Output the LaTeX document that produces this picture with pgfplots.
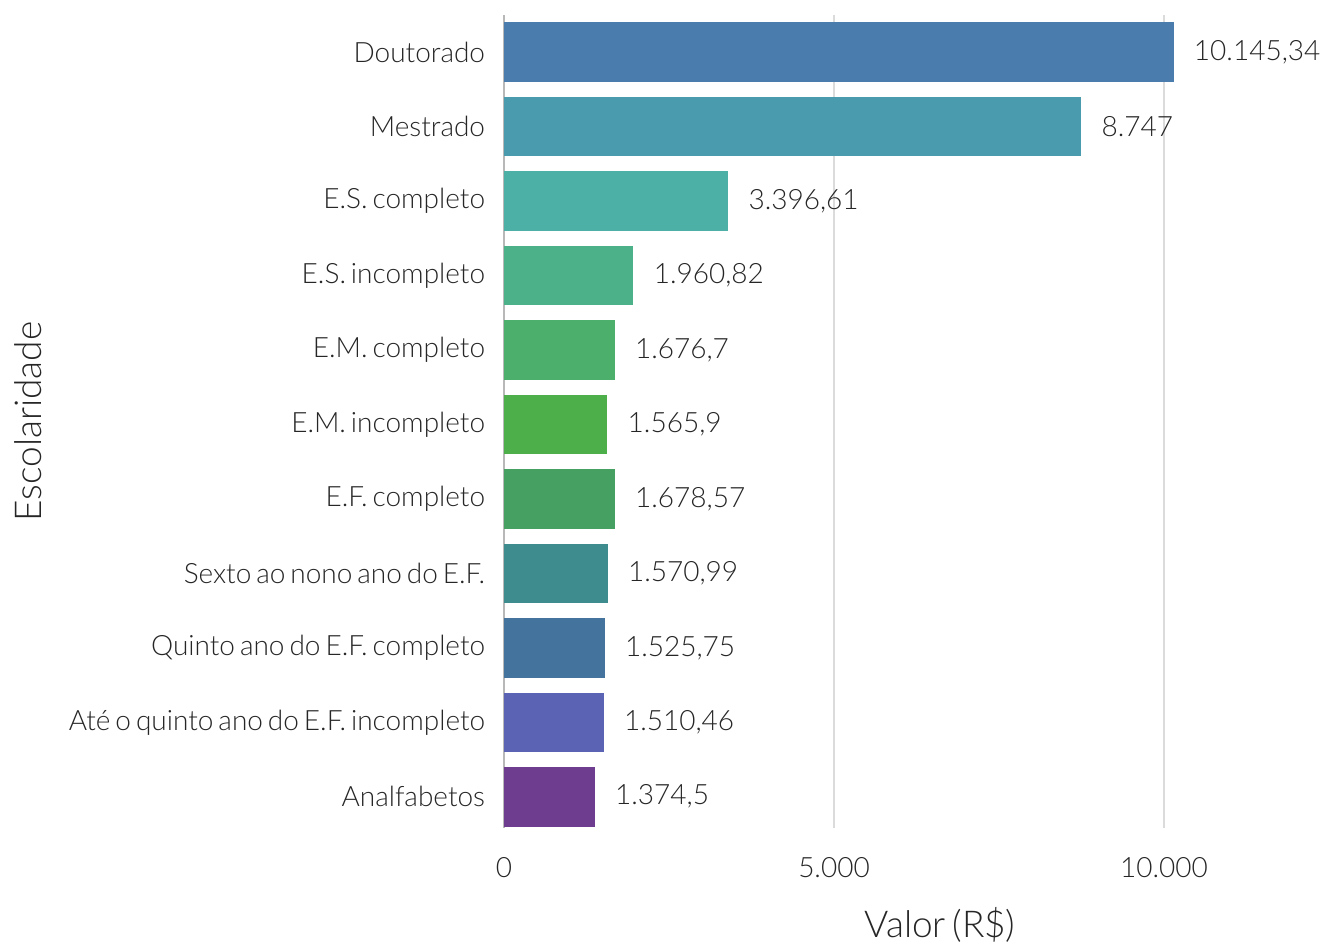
\documentclass[border=0pt]{standalone}
\usepackage{fontspec}
\setmainfont{Lato}[UprightFont=* Light, WordSpace=0.65]
\usepackage{pgfplots}
\pgfplotsset{compat=1.18}
\definecolor{c0}{HTML}{4A7DAD}
\definecolor{c1}{HTML}{4A9BAD}
\definecolor{c2}{HTML}{4CB0A6}
\definecolor{c3}{HTML}{4CB088}
\definecolor{c4}{HTML}{4CAF6C}
\definecolor{c5}{HTML}{4CAF4A}
\definecolor{c6}{HTML}{45A062}
\definecolor{c7}{HTML}{3F8C8E}
\definecolor{c8}{HTML}{44739E}
\definecolor{c9}{HTML}{5B63B5}
\definecolor{c10}{HTML}{6E3D8F}
\definecolor{txt}{HTML}{262626}

\begin{document}
\begin{tikzpicture}
\begin{axis}[
  scale only axis, width=396pt, height=406.5pt,
  xmin=0, xmax=12000, ymin=-0.5, ymax=10.42, y dir=reverse,
  xbar, bar shift=0pt, bar width=0.8,
  axis line style={draw=none}, tick style={draw=none},
  scaled x ticks=false,
  xmajorgrids, grid style={line width=1pt, black!14},
  xtick={5000,10000}, xticklabels={5.000,10.000},
  extra x ticks={0}, extra x tick labels={0},
  extra x tick style={grid style={line width=1.2pt, black!28}},
  ytick={0,...,10},
  yticklabels={Doutorado,Mestrado,E.S. completo,E.S. incompleto,E.M. completo,E.M. incompleto,E.F. completo,Sexto ao nono ano do E.F.,Quinto ano do E.F. completo,Até o quinto ano do E.F. incompleto,Analfabetos},
  tick label style={font=\fontsize{14}{16}\selectfont, text=txt},
  yticklabel style={inner sep=0pt, anchor=east, xshift=-5pt},
  xticklabel style={inner sep=0pt, anchor=center, yshift=-20pt},
  xlabel={Valor (R\$)}, ylabel={Escolaridade},
  label style={font=\fontsize{18.5}{20}\selectfont, text=txt},
  xlabel style={at={([xshift=218pt,yshift=-48.5pt]axis description cs:0,0)}, anchor=center},
  ylabel style={at={([xshift=-238pt]axis description cs:0,0.5)}, anchor=center},
  point meta=explicit symbolic,
  nodes near coords,
  every node near coord/.style={anchor=west, inner sep=0pt, xshift=10pt, font=\fontsize{14}{16}\selectfont, text=txt},
]
\addplot[fill=c0, draw=none] coordinates {(10145.34,0) [10.145,34]};
\addplot[fill=c1, draw=none] coordinates {(8747,1) [8.747]};
\addplot[fill=c2, draw=none] coordinates {(3396.61,2) [3.396,61]};
\addplot[fill=c3, draw=none] coordinates {(1960.82,3) [1.960,82]};
\addplot[fill=c4, draw=none] coordinates {(1676.7,4) [1.676,7]};
\addplot[fill=c5, draw=none] coordinates {(1565.9,5) [1.565,9]};
\addplot[fill=c6, draw=none] coordinates {(1678.57,6) [1.678,57]};
\addplot[fill=c7, draw=none] coordinates {(1570.99,7) [1.570,99]};
\addplot[fill=c8, draw=none] coordinates {(1525.75,8) [1.525,75]};
\addplot[fill=c9, draw=none] coordinates {(1510.46,9) [1.510,46]};
\addplot[fill=c10, draw=none] coordinates {(1374.5,10) [1.374,5]};
\end{axis}
\pgfresetboundingbox
\path (-252pt,-58pt) rectangle (408.5pt,414pt);
\end{tikzpicture}
\end{document}
